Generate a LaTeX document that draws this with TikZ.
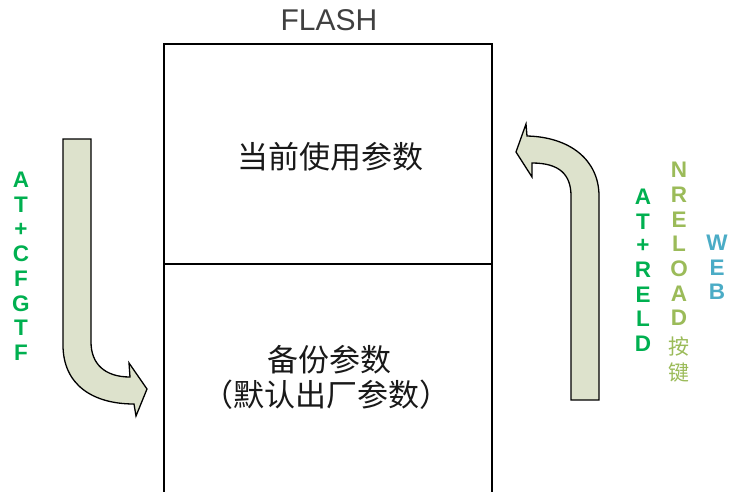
\documentclass[tikz,border=0pt]{standalone}
\usepackage{fontspec}
\setmainfont{Liberation Sans}
\newfontfamily\cjk{Noto Sans CJK SC}
\definecolor{agreen}{HTML}{00B050}
\definecolor{olivegr}{HTML}{9BBB59}
\definecolor{webblue}{HTML}{4BACC6}
\definecolor{arrowfill}{HTML}{DDE2CC}
\definecolor{flashgray}{HTML}{404040}
\begin{document}
\begin{tikzpicture}[x=1pt,y=-1pt,
  memblock/.style={draw=black, line width=1.3pt, inner sep=0pt, outer sep=0pt, anchor=north west, minimum width=328pt},
  bigarrow/.style={draw=black, line width=1.3pt, fill=arrowfill, line join=miter},
  cjktext/.style={font=\cjk\fontsize{31}{35}\selectfont, text=black!90, inner sep=0pt},
  vletter/.style={font=\bfseries\fontsize{22.5}{24}\selectfont, inner sep=0pt},
  vcjk/.style={font=\cjk\fontsize{21}{24}\selectfont, inner sep=0pt}]
\useasboundingbox (0,0) rectangle (729,491);
\fill[white] (0,0) rectangle (729,491);
% FLASH blocks
\node[memblock, minimum height=220pt] (top) at (164,44) {};
\node[memblock, minimum height=230pt] (bot) at (164,264) {};
\node[font=\fontsize{30}{34}\selectfont, text=flashgray, inner sep=0pt] (flash) at (329,20) {FLASH};
\node[cjktext] (cur) at (330,157) {当前使用参数};
\node[cjktext] (bak1) at (329,360) {备份参数};
\node[cjktext] (bak2) at (326,395) {（默认出厂参数）};
% left arrow (down, then right)
\draw[bigarrow] (63,139) -- (91,139) -- (91,342)
  .. controls (91,364) and (105,377) .. (130,377) -- (129,363) -- (147,389)
  -- (136,416) -- (134,404)
  .. controls (93,404) and (63,385) .. (63,345) -- cycle;
% right arrow (up, then left)
\draw[bigarrow] (571,400) -- (599,400) -- (599,196)
  .. controls (599,160) and (570,137) .. (527,136) -- (526,124) -- (516,152)
  -- (532,177) -- (532,163)
  .. controls (560,163) and (571,175) .. (571,196) -- cycle;
% left vertical label
\foreach \c [count=\i] in {A,T,+,C,F,G,T,F}
  \node[vletter, text=agreen] (l\i) at (21,{180+24.7*(\i-1)}) {\c};
% right labels
\foreach \c [count=\i] in {A,T,+,R,E,L,D}
  \node[vletter, text=agreen] (r\i) at (643,{197+24.4*(\i-1)}) {\c};
\foreach \c [count=\i] in {N,R,E,L,O,A,D}
  \node[vletter, text=olivegr] (n\i) at (679,{170+24.7*(\i-1)}) {\c};
\node[vcjk, text=olivegr] (an) at (679,346) {按};
\node[vcjk, text=olivegr] (jian) at (679,373) {键};
\foreach \c [count=\i] in {W,E,B}
  \node[vletter, text=webblue] (w\i) at (717,{243+24.5*(\i-1)}) {\c};
\end{tikzpicture}
\end{document}
